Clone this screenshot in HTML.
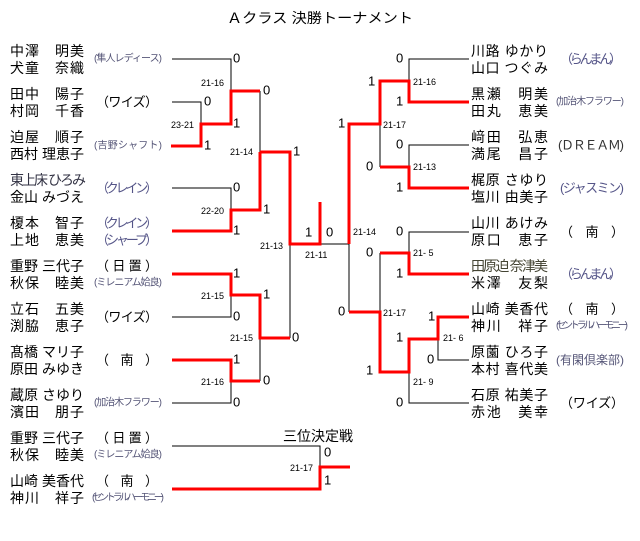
<!DOCTYPE html>
<html><head><meta charset="utf-8"><style>
html,body{margin:0;padding:0;background:#fff;}
svg{display:block;}
text{font-family:"Liberation Sans","Noto Sans CJK JP",sans-serif;}
.n{font-size:14px;fill:#000;}
.a{font-size:13px;fill:#000;}
.s{font-size:10px;fill:#557;}
.c{font-size:13px;fill:#558;}
.d{font-size:13px;fill:#000;}
.sc{font-size:9px;fill:#000;}
</style></head><body>
<svg width="640" height="541" viewBox="0 0 640 541" xmlns="http://www.w3.org/2000/svg">
<text x="320" y="23" text-anchor="middle" style="font-size:14px" textLength="186" lengthAdjust="spacingAndGlyphs">Ａクラス 決勝トーナメント</text>

<g fill="none" stroke="#000" stroke-width="1">
<polyline points="172,59 231,59 231,91"/>
<polyline points="172,102 201,102 201,124"/>
<polyline points="260,91 260,152"/>
<polyline points="172,188 231,188 231,210"/>
<polyline points="290,244 290,338"/>
<polyline points="231,295 231,317 172,317"/>
<polyline points="260,338 260,381"/>
<polyline points="231,381 231,403 172,403"/>
<polyline points="172,446 320,446 320,467"/>
<polyline points="469,59 409,59 409,81"/>
<polyline points="320,244 349,244 349,312"/>
<polyline points="380,124 380,167"/>
<polyline points="469,145 409,145 409,167"/>
<polyline points="469,232 409,232 409,253"/>
<polyline points="380,253 380,312"/>
<polyline points="438,339 438,360 469,360"/>
<polyline points="409,372 409,403 469,403"/>
</g>
<g fill="none" stroke="#f00" stroke-width="3">
<polyline points="171,146 201,146 201,124 231,124 231,91 260,91"/>
<polyline points="260,152 290,152 290,244 320,244 320,202"/>
<polyline points="172,231 231,231 231,210 260,210 260,152"/>
<polyline points="172,274 231,274 231,295 260,295 260,338 290,338"/>
<polyline points="172,360 231,360 231,381 260,381"/>
<polyline points="172,489 320,489 320,467 350,467"/>
<polyline points="469,102 409,102 409,81 380,81 380,124 349,124 349,244"/>
<polyline points="469,188 409,188 409,167 380,167"/>
<polyline points="469,274 409,274 409,253 380,253"/>
<polyline points="349,312 380,312 380,372 409,372 409,339 438,339 438,317 469,317"/>
</g>

<g class="d" dominant-baseline="central">
<text x="233" y="58">0</text><text x="204" y="101">0</text><text x="204" y="145">1</text>
<text x="233" y="123">1</text><text x="263" y="90">0</text><text x="293" y="151">1</text>
<text x="233" y="187">0</text><text x="263" y="209">1</text><text x="233" y="230">1</text>
<text x="305" y="232">1</text><text x="326" y="232">0</text>
<text x="233" y="273">1</text><text x="263" y="294">1</text><text x="233" y="316">0</text>
<text x="292" y="337">0</text><text x="233" y="359">1</text><text x="263" y="380">0</text><text x="233" y="402">0</text>
<text x="324" y="452">0</text><text x="324" y="480">1</text>
<text x="396" y="58">0</text><text x="368" y="81">1</text><text x="396" y="101">1</text>
<text x="338" y="123">1</text><text x="396" y="144">0</text><text x="366" y="166">0</text>
<text x="396" y="187">1</text><text x="396" y="231">0</text>
<text x="366" y="252">0</text><text x="396" y="273">1</text><text x="338" y="311">0</text>
<text x="428" y="316">1</text><text x="396" y="337">1</text><text x="427" y="359">0</text>
<text x="366" y="370">1</text><text x="396" y="402">0</text>
</g>
<g class="sc" dominant-baseline="central">
<text x="201" y="83">21-16</text><text x="171" y="125">23-21</text><text x="230" y="152">21-14</text>
<text x="201" y="211">22-20</text><text x="260" y="246">21-13</text><text x="305" y="255">21-11</text>
<text x="201" y="296">21-15</text><text x="230" y="338">21-15</text><text x="201" y="382">21-16</text>
<text x="290" y="468">21-17</text>
<text x="413" y="82">21-16</text><text x="383" y="125">21-17</text><text x="413" y="167">21-13</text>
<text x="353" y="232">21-14</text><text x="413" y="253">21- 5</text><text x="383" y="313">21-17</text>
<text x="443" y="338">21- 6</text><text x="413" y="382">21- 9</text>
</g>
<text x="283" y="441" style="font-size:14px">三位決定戦</text>

<g class="n" dominant-baseline="central" lengthAdjust="spacing">
<text x="10" y="51" textLength="74">中澤　明美</text><text x="10" y="68" textLength="74">犬童　奈織</text>
<text x="10" y="94" textLength="74">田中　陽子</text><text x="10" y="111" textLength="74">村岡　千香</text>
<text x="10" y="137" textLength="74">迫屋　順子</text><text x="10" y="154" textLength="74">西村 理恵子</text>
<text x="10" y="180" textLength="76" style="fill:#334">東上床 ひろみ</text><text x="10" y="197" textLength="74">金山 みづえ</text>
<text x="10" y="223" textLength="74">榎本　智子</text><text x="10" y="240" textLength="74">上地　恵美</text>
<text x="10" y="266" textLength="74">重野 三代子</text><text x="10" y="283" textLength="74">秋保　睦美</text>
<text x="10" y="309" textLength="74">立石　五美</text><text x="10" y="326" textLength="74">渕脇　恵子</text>
<text x="10" y="352" textLength="74">髙橋 マリ子</text><text x="10" y="369" textLength="74">原田 みゆき</text>
<text x="10" y="395" textLength="74">蔵原 さゆり</text><text x="10" y="412" textLength="74">濱田　朋子</text>
<text x="10" y="438" textLength="74">重野 三代子</text><text x="10" y="455" textLength="74">秋保　睦美</text>
<text x="10" y="481" textLength="74">山崎 美香代</text><text x="10" y="498" textLength="74">神川　祥子</text>

<text x="471" y="51" textLength="77">川路 ゆかり</text><text x="471" y="68" textLength="77">山口 つぐみ</text>
<text x="471" y="94" textLength="77">黒瀬　明美</text><text x="471" y="111" textLength="77">田丸　恵美</text>
<text x="471" y="137" textLength="77">﨑田　弘恵</text><text x="471" y="154" textLength="77">満尾　昌子</text>
<text x="471" y="180" textLength="77">梶原 さゆり</text><text x="471" y="197" textLength="77">塩川 由美子</text>
<text x="471" y="223" textLength="77">山川 あけみ</text><text x="471" y="240" textLength="77">原口　恵子</text>
<text x="471" y="266" textLength="77" style="fill:#443">田原迫 奈津美</text><text x="471" y="283" textLength="77">米澤　友梨</text>
<text x="471" y="309" textLength="77">山崎 美香代</text><text x="471" y="326" textLength="77">神川　祥子</text>
<text x="471" y="352" textLength="77">原薗 ひろ子</text><text x="471" y="369" textLength="77">本村 喜代美</text>
<text x="471" y="395" textLength="77">石原 祐美子</text><text x="471" y="412" textLength="77">赤池　美幸</text>
</g>

<g dominant-baseline="central" lengthAdjust="spacingAndGlyphs">
<text class="s" x="94" y="59" textLength="68">(隼人レディース)</text>
<text class="a" x="96" y="102" textLength="62">（ワイズ）</text>
<text class="s" x="94" y="146" textLength="68">(吉野シャフト)</text>
<text class="c" x="96" y="188" textLength="62">（クレイン）</text>
<text class="c" x="96" y="223" textLength="62">（クレイン）</text>
<text class="c" x="96" y="240" textLength="62">（シャープ）</text>
<text class="a" x="96" y="266" textLength="62">（ 日 置 ）</text>
<text class="s" x="94" y="283" textLength="68">(ミレニアム姶良)</text>
<text class="a" x="96" y="317" textLength="62">（ワイズ）</text>
<text class="a" x="96" y="360" textLength="62">（　南　）</text>
<text class="s" x="94" y="403" textLength="68">(加治木フラワー)</text>
<text class="a" x="96" y="438" textLength="62">（ 日 置 ）</text>
<text class="s" x="94" y="455" textLength="68">(ミレニアム姶良)</text>
<text class="a" x="96" y="481" textLength="62">（　南　）</text>
<text class="s" x="92" y="498" textLength="72">(セントラルハーモニー)</text>

<text class="c" x="560" y="59" textLength="62">（らんまん）</text>
<text class="s" x="556" y="102" textLength="68">(加治木フラワー)</text>
<text class="a" x="558" y="145" textLength="66" style="fill:#333">(ＤＲＥＡＭ)</text>
<text class="c" x="560" y="188" textLength="64">(ジャスミン)</text>
<text class="a" x="560" y="232" textLength="64">（　南　）</text>
<text class="c" x="560" y="274" textLength="62">（らんまん）</text>
<text class="a" x="560" y="309" textLength="64">（　南　）</text>
<text class="s" x="556" y="326" textLength="72">(セントラルハーモニー)</text>
<text class="s" x="556" y="360" textLength="68" style="font-size:12px">(有閑倶楽部)</text>
<text class="a" x="560" y="403" textLength="64">（ワイズ）</text>
</g>
</svg>
</body></html>
